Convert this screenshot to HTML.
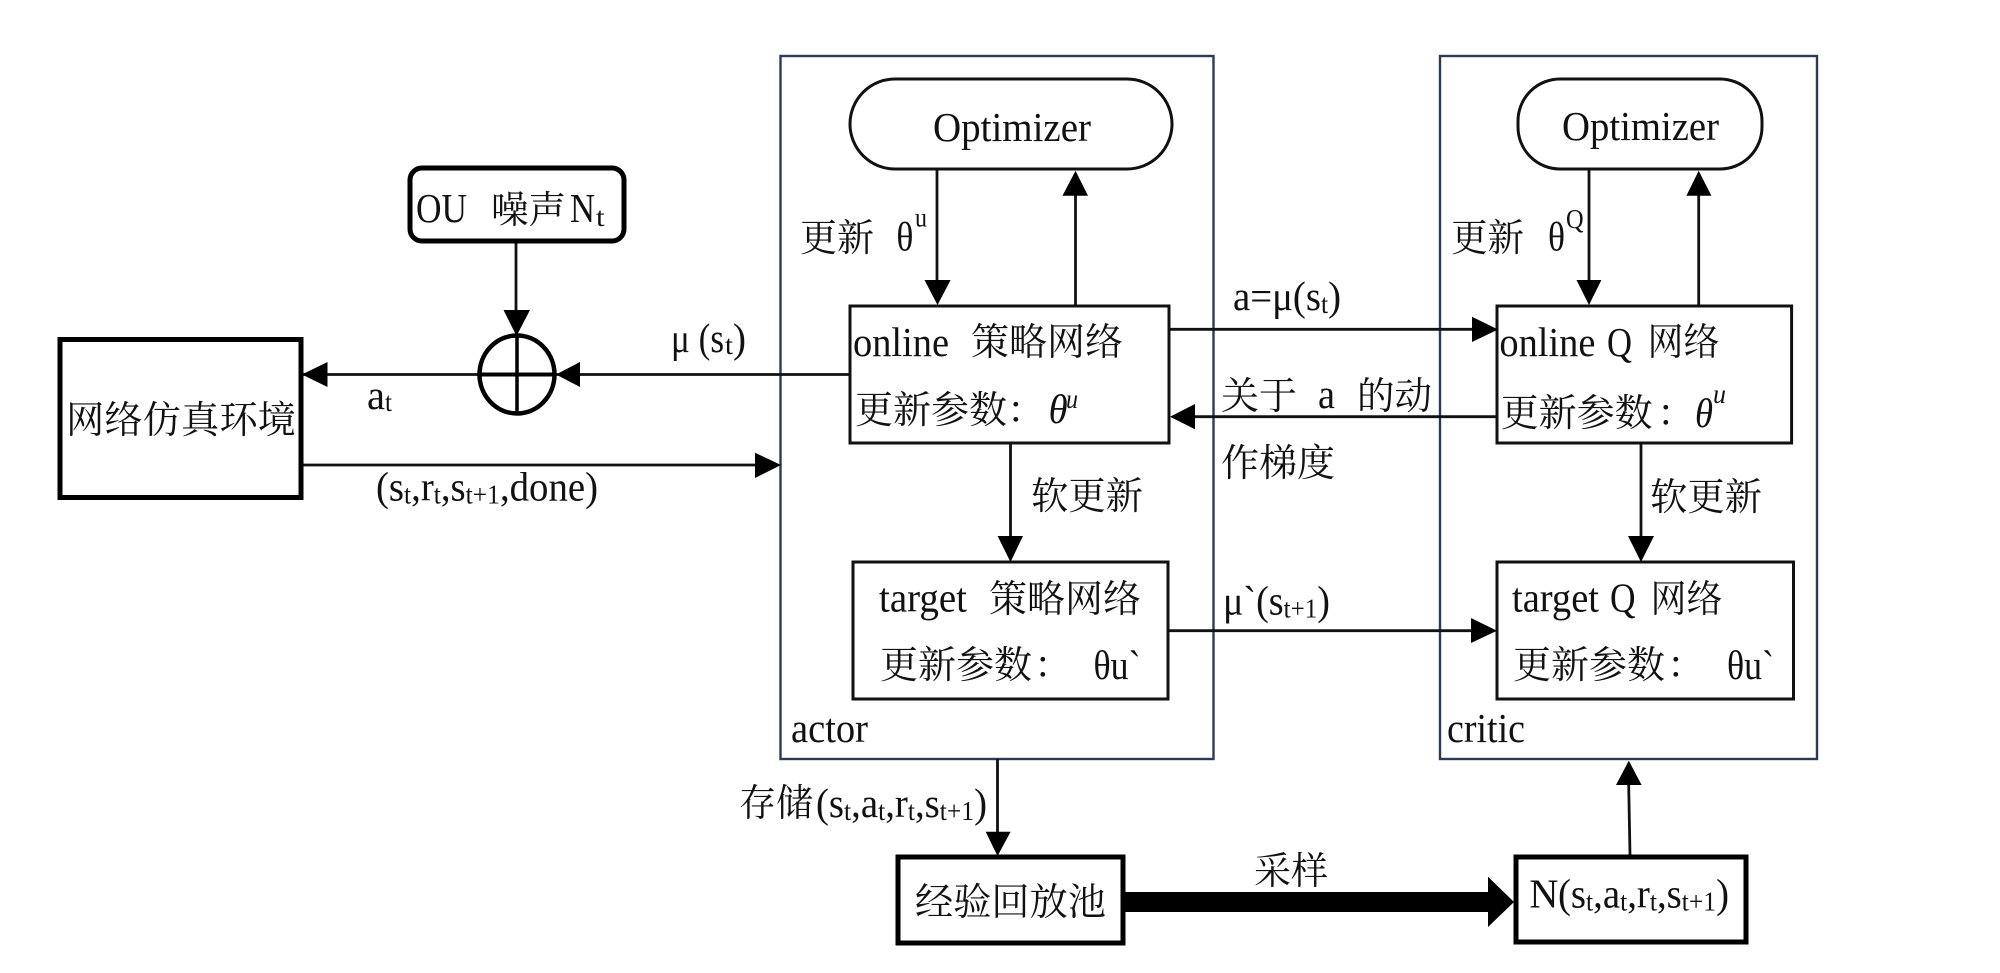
<!DOCTYPE html>
<html><head><meta charset="utf-8">
<style>
html,body{margin:0;padding:0;background:#fff}
svg{display:block}
text{fill:#111;white-space:pre}
.l{font-family:"Liberation Serif",serif;font-size:41px}
.c{font-family:"Noto Serif CJK SC","Liberation Serif",serif;font-size:38px}
.b{font-size:27px}
.i{font-style:italic}
.ln{stroke:#111;stroke-width:2.8;fill:none}
.bx{stroke:#111;stroke-width:3;fill:#fff}
.th{stroke:#000;stroke-width:5;fill:#fff}
.g{stroke:#2b3b57;stroke-width:2.4;fill:none}
polygon{fill:#000}
</style></head><body>
<svg width="2000" height="973" viewBox="0 0 2000 973" xmlns="http://www.w3.org/2000/svg">
<rect width="2000" height="973" fill="#fff"/>
<!-- group boxes -->
<rect class="g" x="780.5" y="56" width="433" height="703"/>
<rect class="g" x="1440" y="56" width="377" height="703"/>
<!-- connectors -->
<path class="ln" d="M516 243V312M301 374.5H480M555 374.5H850M301 465H760M937 169V285M1075.5 190V306M1169 329.3H1475M1497 416.7H1190M1010.5 443V540M1168 630.7H1475M1641 443V540M1589 169V285M1698.7 190V306M997.5 759V835M1630 855L1628.6 780"/>
<rect x="1123" y="892" width="368" height="20" fill="#000"/>
<!-- boxes -->
<rect class="th" x="60" y="339.5" width="241" height="158"/>
<rect x="410" y="168" width="214" height="73" rx="12" class="th"/>
<ellipse cx="517" cy="374.5" rx="37.5" ry="39" fill="none" stroke="#000" stroke-width="4.5"/>
<path d="M517 335V414" stroke="#000" stroke-width="3.5"/>
<path d="M479 374.5H555" stroke="#000" stroke-width="4"/>
<rect class="bx" x="850" y="79" width="322" height="90" rx="45" fill="#fff"/>
<rect class="bx" x="1518" y="79" width="244" height="90" rx="42"/>
<rect class="bx" x="850" y="306" width="319" height="137"/>
<rect class="bx" x="1497" y="306" width="294.6" height="137"/>
<rect class="bx" x="853" y="562" width="315" height="137"/>
<rect class="bx" x="1497" y="562" width="296.5" height="137"/>
<rect class="th" x="898" y="857" width="225" height="86"/>
<rect class="th" x="1516" y="857" width="230" height="85"/>
<!-- arrowheads -->
<polygon points="516.5,336 503.5,310 530,310"/>
<polygon points="302,374.5 327.5,362 327.5,387"/>
<polygon points="556,374.5 580,362 580,387"/>
<polygon points="781,465 755,452.7 755,478"/>
<polygon points="937.5,305 924.5,280 950.6,280"/>
<polygon points="1075.5,170.7 1062.5,195.7 1088,195.7"/>
<polygon points="1498,329.5 1472,316.7 1472,342"/>
<polygon points="1170,416.7 1195,404 1195,429.3"/>
<polygon points="1589,305 1576.5,280 1601.4,280"/>
<polygon points="1698.7,170.7 1686.4,195.7 1711.4,195.7"/>
<polygon points="1010.5,562 997.6,536 1023,536"/>
<polygon points="1641,562 1628,536 1654,536"/>
<polygon points="1497,630.7 1471,618 1471,643"/>
<polygon points="997.5,856 985.7,831.7 1010.6,831.7"/>
<polygon points="1514,902 1488,876.7 1488,927"/>
<polygon points="1628.8,760.7 1616,785 1641.6,785"/>
<!-- labels -->
<text class="c" x="66" y="433" textLength="230" lengthAdjust="spacingAndGlyphs">网络仿真环境</text>
<text class="l" x="416" y="222" textLength="51" lengthAdjust="spacingAndGlyphs">OU</text>
<text class="c" x="491" y="223" textLength="75" lengthAdjust="spacingAndGlyphs">噪声</text>
<text class="l" x="570" y="222" textLength="25" lengthAdjust="spacingAndGlyphs">N</text>
<text class="l b" x="596" y="226" textLength="8.6" lengthAdjust="spacingAndGlyphs">t</text>
<text class="l" x="671" y="352" textLength="53" lengthAdjust="spacingAndGlyphs">μ (s</text>
<text class="l b" x="725" y="354" textLength="8" lengthAdjust="spacingAndGlyphs">t</text>
<text class="l" x="733" y="352" textLength="13" lengthAdjust="spacingAndGlyphs">)</text>
<text class="l" x="367" y="409" textLength="18" lengthAdjust="spacingAndGlyphs">a</text>
<text class="l b" x="385" y="411" textLength="7" lengthAdjust="spacingAndGlyphs">t</text>
<text class="l" x="376" y="500.7" textLength="222" lengthAdjust="spacingAndGlyphs">(s<tspan class="b" dy="3">t</tspan><tspan dy="-3">,r</tspan><tspan class="b" dy="3">t</tspan><tspan dy="-3">,s</tspan><tspan class="b" dy="3">t+1</tspan><tspan dy="-3">,done)</tspan></text>

<text class="l" x="933" y="141" textLength="158" lengthAdjust="spacingAndGlyphs">Optimizer</text>
<text class="c" x="800" y="251" textLength="74" lengthAdjust="spacingAndGlyphs">更新</text>
<text class="l" x="896.4" y="250.7" textLength="17" lengthAdjust="spacingAndGlyphs">θ</text>
<text class="l b" x="915" y="226.7" textLength="12" lengthAdjust="spacingAndGlyphs">u</text>
<text class="l" x="853" y="356" textLength="96" lengthAdjust="spacingAndGlyphs">online</text>
<text class="c" x="971" y="355" textLength="152" lengthAdjust="spacingAndGlyphs">策略网络</text>
<text class="c" x="855" y="423" textLength="152" lengthAdjust="spacingAndGlyphs">更新参数</text>
<text class="c" x="1007" y="423">：</text>
<text class="l i" x="1048.6" y="423" textLength="19" lengthAdjust="spacingAndGlyphs">θ</text>
<text class="l i b" x="1066" y="408" textLength="12" lengthAdjust="spacingAndGlyphs">u</text>
<text class="l" x="1233" y="310" textLength="108" lengthAdjust="spacingAndGlyphs">a=μ(s<tspan class="b" dy="3">t</tspan><tspan dy="-3">)</tspan></text>
<text class="c" x="1221" y="409" textLength="76" lengthAdjust="spacingAndGlyphs">关于</text>
<text class="l" x="1318" y="408" textLength="17" lengthAdjust="spacingAndGlyphs">a</text>
<text class="c" x="1357" y="409" textLength="75" lengthAdjust="spacingAndGlyphs">的动</text>
<text class="c" x="1221" y="476" textLength="114" lengthAdjust="spacingAndGlyphs">作梯度</text>
<text class="c" x="1031" y="509" textLength="112" lengthAdjust="spacingAndGlyphs">软更新</text>
<text class="l" x="879" y="611.5" textLength="88" lengthAdjust="spacingAndGlyphs">target</text>
<text class="c" x="989" y="612" textLength="152" lengthAdjust="spacingAndGlyphs">策略网络</text>
<text class="c" x="880" y="678" textLength="152" lengthAdjust="spacingAndGlyphs">更新参数</text>
<text class="c" x="1034" y="678">：</text>
<text class="l" x="1093.5" y="679" textLength="47" lengthAdjust="spacingAndGlyphs">θu`</text>
<text class="l" x="1223" y="614.5" textLength="107" lengthAdjust="spacingAndGlyphs">μ`(s<tspan class="b" dy="3">t+1</tspan><tspan dy="-3">)</tspan></text>
<text class="l" x="791" y="742" textLength="77" lengthAdjust="spacingAndGlyphs">actor</text>
<text class="c" x="739" y="816" textLength="74" lengthAdjust="spacingAndGlyphs">存储</text>
<text class="l" x="816" y="817" textLength="171" lengthAdjust="spacingAndGlyphs">(s<tspan class="b" dy="3">t</tspan><tspan dy="-3">,a</tspan><tspan class="b" dy="3">t</tspan><tspan dy="-3">,r</tspan><tspan class="b" dy="3">t</tspan><tspan dy="-3">,s</tspan><tspan class="b" dy="3">t+1</tspan><tspan dy="-3">)</tspan></text>
<text class="c" x="915" y="915" textLength="191" lengthAdjust="spacingAndGlyphs">经验回放池</text>
<text class="c" x="1254" y="884" textLength="74" lengthAdjust="spacingAndGlyphs">采样</text>

<text class="l" x="1562" y="140" textLength="157" lengthAdjust="spacingAndGlyphs">Optimizer</text>
<text class="c" x="1451" y="251" textLength="73" lengthAdjust="spacingAndGlyphs">更新</text>
<text class="l" x="1548" y="250.7" textLength="17" lengthAdjust="spacingAndGlyphs">θ</text>
<text class="l b" x="1566" y="228" textLength="17.6" lengthAdjust="spacingAndGlyphs">Q</text>
<text class="l" x="1499.4" y="356" textLength="96" lengthAdjust="spacingAndGlyphs">online</text>
<text class="l" x="1607" y="356" textLength="25" lengthAdjust="spacingAndGlyphs">Q</text>
<text class="c" x="1647.5" y="355" textLength="72" lengthAdjust="spacingAndGlyphs">网络</text>
<text class="c" x="1500.6" y="426" textLength="152" lengthAdjust="spacingAndGlyphs">更新参数</text>
<text class="c" x="1657" y="426">：</text>
<text class="l i" x="1695" y="427" textLength="18" lengthAdjust="spacingAndGlyphs">θ</text>
<text class="l i b" x="1713" y="403" textLength="13" lengthAdjust="spacingAndGlyphs">u</text>
<text class="c" x="1650" y="510" textLength="112" lengthAdjust="spacingAndGlyphs">软更新</text>
<text class="l" x="1512" y="611.5" textLength="87" lengthAdjust="spacingAndGlyphs">target</text>
<text class="l" x="1610" y="611.5" textLength="25.5" lengthAdjust="spacingAndGlyphs">Q</text>
<text class="c" x="1650.5" y="612" textLength="72" lengthAdjust="spacingAndGlyphs">网络</text>
<text class="c" x="1513" y="678" textLength="152" lengthAdjust="spacingAndGlyphs">更新参数</text>
<text class="c" x="1667" y="678">：</text>
<text class="l" x="1727" y="679" textLength="47" lengthAdjust="spacingAndGlyphs">θu`</text>
<text class="l" x="1447" y="742" textLength="78" lengthAdjust="spacingAndGlyphs">critic</text>
<text class="l" x="1529.4" y="907.5" textLength="29" lengthAdjust="spacingAndGlyphs">N</text>
<text class="l" x="1558" y="907.5" textLength="171" lengthAdjust="spacingAndGlyphs">(s<tspan class="b" dy="3">t</tspan><tspan dy="-3">,a</tspan><tspan class="b" dy="3">t</tspan><tspan dy="-3">,r</tspan><tspan class="b" dy="3">t</tspan><tspan dy="-3">,s</tspan><tspan class="b" dy="3">t+1</tspan><tspan dy="-3">)</tspan></text>
</svg>
</body></html>
